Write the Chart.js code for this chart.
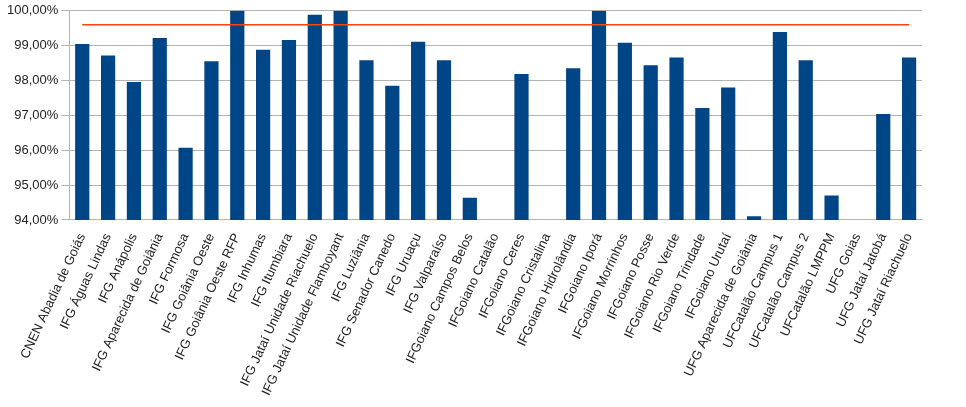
<!DOCTYPE html>
<html>
<head>
<meta charset="utf-8">
<script src="https://cdn.jsdelivr.net/npm/chart.js@4"></script>
<style>
  body { margin: 0; background: #fff; }
  #wrap { width: 966px; height: 407px; }
</style>
</head>
<body>
<div id="wrap"><canvas id="myChart"></canvas></div>
<script>
const categorias = [
  "CNEN Abadia de Goiás", "IFG Águas Lindas", "IFG Anápolis", "IFG Aparecida de Goiânia",
  "IFG Formosa", "IFG Goiânia Oeste", "IFG Goiânia Oeste RFP", "IFG Inhumas", "IFG Itumbiara",
  "IFG Jataí Unidade Riachuelo", "IFG Jataí Unidade Flamboyant", "IFG Luziânia",
  "IFG Senador Canedo", "IFG Uruaçu", "IFG Valparaíso", "IFGoiano Campos Belos",
  "IFGoiano Catalão", "IFGoiano Ceres", "IFGoiano Cristalina", "IFGoiano Hidrolândia",
  "IFGoiano Iporá", "IFGoiano Morrinhos", "IFGoiano Posse", "IFGoiano Rio Verde",
  "IFGoiano Trindade", "IFGoiano Urutaí", "UFG Aparecida de Goiânia", "UFCatalão Campus 1",
  "UFCatalão Campus 2", "UFCatalão LMPPM", "UFG Goias", "UFG Jataí Jatobá", "UFG Jataí Riachuelo"
];
const valores = [
  99.05, 98.72, 97.96, 99.22, 96.07, 98.55, 100, 98.88, 99.16, 99.89, 100, 98.58,
  97.85, 99.11, 98.58, 94.64, null, 98.19, null, 98.35, 100, 99.08, 98.44, 98.66,
  97.21, 97.8, 94.11, 99.39, 98.58, 94.7, null, 97.04, 98.66
];
const meta = 99.6;
const ticksY = [94, 95, 96, 97, 98, 99, 100];

const ctx = document.getElementById("myChart").getContext("2d");
new Chart(ctx, {
  data: {
    labels: categorias,
    datasets: [
      {
        type: "line",
        data: categorias.map(() => meta),
        borderColor: "#ff420e",
        borderWidth: 1.5,
        pointRadius: 0,
        fill: false
      },
      {
        type: "bar",
        data: valores,
        backgroundColor: "#004586",
        categoryPercentage: 1,
        barPercentage: 0.55
      }
    ]
  },
  options: {
    responsive: true,
    maintainAspectRatio: false,
    animation: false,
    layout: { padding: { top: 8, right: 44, left: 4, bottom: 6 } },
    plugins: { legend: { display: false }, tooltip: { enabled: false } },
    scales: {
      x: {
        grid: { display: false },
        border: { color: "#b3b3b3" },
        ticks: {
          color: "#222",
          font: { family: "Liberation Sans", size: 13 },
          minRotation: 65, maxRotation: 65, autoSkip: false
        }
      },
      y: {
        min: 94, max: 100,
        afterBuildTicks: (s) => { s.ticks = ticksY.map(v => ({ value: v })); },
        grid: { color: "#b3b3b3" },
        border: { color: "#b3b3b3" },
        ticks: {
          color: "#222",
          font: { family: "Liberation Sans", size: 13 },
          callback: (v) => v.toFixed(2).replace(".", ",") + "%"
        }
      }
    }
  }
});
</script>
</body>
</html>
